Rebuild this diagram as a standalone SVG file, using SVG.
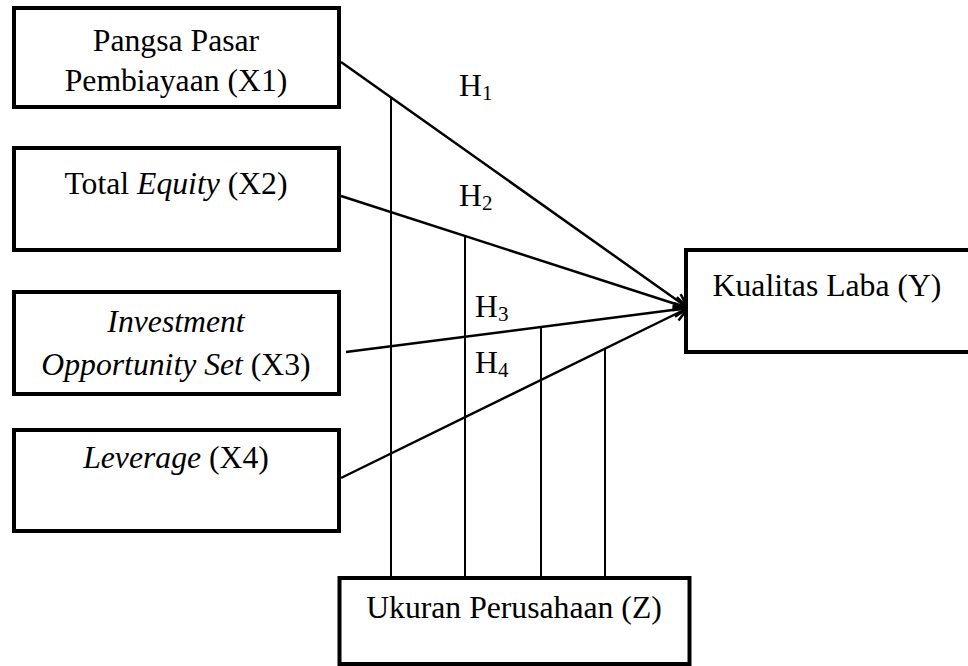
<svg xmlns="http://www.w3.org/2000/svg" width="968" height="666" viewBox="0 0 968 666">
  <style>
    .box { fill: #ffffff; stroke: #000000; stroke-width: 4; }
    .t { font-family: "Liberation Serif", "Times New Roman", serif; font-size: 31.7px; fill: #000000; }
    .c { text-anchor: middle; }
    .i { font-style: italic; }
    .sub { font-size: 21px; }
    .edge { stroke: #000000; stroke-width: 2.5; fill: none; }
    .mod { stroke: #000000; stroke-width: 2; fill: none; }
  </style>
  <defs>
    <marker id="arrow" markerUnits="userSpaceOnUse" markerWidth="20" markerHeight="20" viewBox="-16 -10 20 20" refX="0" refY="0" orient="auto" overflow="visible">
      <path d="M -14 -7 L 0 0 L -14 7" fill="none" stroke="#000000" stroke-width="2.5"/>
    </marker>
  </defs>
  <rect width="968" height="666" fill="#ffffff"/>

  <g id="connectors">
    <line class="mod" x1="391" y1="97" x2="391" y2="578"/>
    <line class="mod" x1="465" y1="236" x2="465" y2="578"/>
    <line class="mod" x1="541" y1="327" x2="541" y2="578"/>
    <line class="mod" x1="605" y1="349" x2="605" y2="578"/>
    <line class="edge" x1="341" y1="62" x2="688" y2="308" marker-end="url(#arrow)"/>
    <line class="edge" x1="341" y1="196" x2="688" y2="308" marker-end="url(#arrow)"/>
    <line class="edge" x1="346" y1="352" x2="688" y2="308" marker-end="url(#arrow)"/>
    <line class="edge" x1="341" y1="478" x2="688" y2="308" marker-end="url(#arrow)"/>
  </g>

  <g id="labels">
    <text class="t" x="459" y="96">H<tspan class="sub" dy="4">1</tspan></text>
    <text class="t" x="459" y="206">H<tspan class="sub" dy="4">2</tspan></text>
    <text class="t" x="475" y="317">H<tspan class="sub" dy="4">3</tspan></text>
    <text class="t" x="475" y="373">H<tspan class="sub" dy="4">4</tspan></text>
  </g>

  <g id="x1">
    <rect class="box" x="14" y="8" width="325" height="99"/>
    <text class="t c" x="176" y="51">Pangsa Pasar</text>
    <text class="t c" x="176" y="91">Pembiayaan (X1)</text>
  </g>
  <g id="x2">
    <rect class="box" x="14" y="148" width="325" height="102"/>
    <text class="t c" x="176" y="194">Total <tspan class="i">Equity</tspan> (X2)</text>
  </g>
  <g id="x3">
    <rect class="box" x="14" y="292" width="325" height="102"/>
    <text class="t c i" x="176" y="332">Investment</text>
    <text class="t c" x="176" y="375"><tspan class="i">Opportunity Set</tspan> (X3)</text>
  </g>
  <g id="x4">
    <rect class="box" x="14" y="430" width="325" height="101"/>
    <text class="t c" x="176" y="468"><tspan class="i">Leverage</tspan> (X4)</text>
  </g>
  <g id="y">
    <rect class="box" x="686" y="250" width="290" height="102"/>
    <text class="t c" x="827" y="296">Kualitas Laba (Y)</text>
  </g>
  <g id="z">
    <rect class="box" x="339.5" y="578" width="350" height="86"/>
    <text class="t c" x="514" y="618">Ukuran Perusahaan (Z)</text>
  </g>
</svg>
